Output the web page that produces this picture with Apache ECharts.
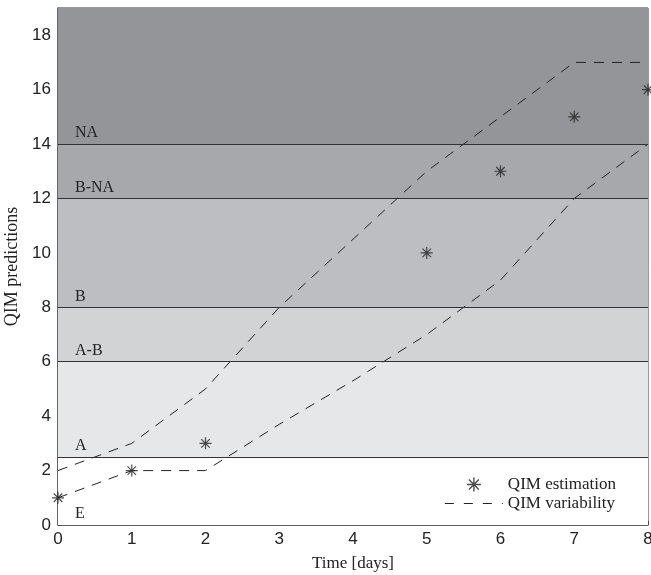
<!DOCTYPE html>
<html><head><meta charset="utf-8">
<script src="https://cdn.jsdelivr.net/npm/echarts@6/dist/echarts.min.js"></script>
<style>html,body{margin:0;padding:0;background:#fff}#c{width:651px;height:575px}</style>
</head><body><div id="c"></div>
<script>
var days = [0, 1, 2, 3, 4, 5, 6, 7, 8];
var estDays = [0, 1, 2, 5, 6, 7, 8];
var estValues = [1, 2, 3, 10, 13, 15, 16];
var upperValues = [2, 3, 5, 8, 10.5, 13, 15, 17, 17];
var lowerValues = [1, 2, 2, 3.7, 5.3, 7, 9, 12, 14];
var bandBounds = [0, 2.5, 6, 8, 12, 14, 19];
var bandLabels = ['E', 'A', 'A-B', 'B', 'B-NA', 'NA'];
var bandColors = ['#ffffff', '#e6e7e8', '#d2d3d5', '#bdbec1', '#a7a8ab', '#939598'];
var xTicks = ['0', '1', '2', '3', '4', '5', '6', '7', '8'];
var yTicks = ['0', '2', '4', '6', '8', '10', '12', '14', '16', '18'];

var serif = '"Liberation Serif", "DejaVu Serif", serif';
var sans = '"Liberation Sans", Arial, sans-serif';
var star = 'path://M-1,-10L1,-10L1,10L-1,10Z M-10,-1L10,-1L10,1L-10,1Z M-6.36,-7.78L7.78,6.36L6.36,7.78L-7.78,-6.36Z M-7.78,6.36L6.36,-7.78L7.78,-6.36L-6.36,7.78Z';

var bandData = [];
for (var i = 0; i < bandLabels.length; i++) {
  bandData.push([
    {yAxis: bandBounds[i], itemStyle: {color: bandColors[i]}, name: bandLabels[i],
     label: {show: true, position: 'insideBottomLeft', distance: 3, offset: [14, 0], formatter: bandLabels[i],
             fontFamily: serif, fontSize: 16, color: '#222'}},
    {yAxis: bandBounds[i + 1]}
  ]);
}
var lineData = [];
for (var j = 1; j < bandBounds.length - 1; j++) lineData.push({yAxis: bandBounds[j]});

function pairs(xs, ys) { return xs.map(function (x, k) { return [x, ys[k]]; }); }

var chart = echarts.init(document.getElementById('c'), null, {renderer: 'canvas'});
chart.setOption({
  animation: false,
  grid: {left: 58, right: 3, top: 8, bottom: 50, show: true, borderColor: '#333', borderWidth: 1, backgroundColor: 'transparent', containLabel: false, outerBoundsMode: 'none'},
  xAxis: {
    type: 'value', min: 0, max: 8, interval: 1,
    name: 'Time [days]', nameLocation: 'middle', nameGap: 30,
    nameTextStyle: {fontFamily: serif, fontSize: 17, color: '#222'},
    axisLine: {show: true, lineStyle: {color: '#555', width: 1.5}},
    axisTick: {show: true, inside: true, length: 4, lineStyle: {color: '#444'}},
    splitLine: {show: false},
    axisLabel: {fontFamily: sans, fontSize: 17, color: '#222', margin: 6, formatter: function (v) { return xTicks[v]; }}
  },
  yAxis: {
    type: 'value', min: 0, max: 19, interval: 2,
    name: 'QIM predictions', nameLocation: 'middle', nameGap: 32,
    nameTextStyle: {fontFamily: serif, fontSize: 18, color: '#222'},
    axisLine: {show: true, lineStyle: {color: '#555', width: 1.5}},
    axisTick: {show: true, inside: true, length: 4, lineStyle: {color: '#444'}},
    splitLine: {show: false},
    axisLabel: {fontFamily: sans, fontSize: 17, color: '#222', margin: 7, formatter: function (v) { return yTicks[v / 2]; }}
  },
  legend: {
    right: 35, bottom: 63, orient: 'vertical', itemGap: 2, itemWidth: 58, itemHeight: 14, padding: 0,
    textStyle: {fontFamily: serif, fontSize: 17, color: '#222', lineHeight: 14, padding: [0, 0, 0, 0]},
    data: [
      {name: 'QIM estimation', icon: star, itemStyle: {color: '#222'}},
      {name: 'QIM variability', itemStyle: {opacity: 0}, lineStyle: {type: [9, 10], width: 1, color: '#222'}}
    ]
  },
  series: [
    {
      type: 'line', name: 'bands', data: [], silent: true, legendHoverLink: false,
      markArea: {silent: true, data: bandData},
      markLine: {silent: true, symbol: 'none', data: lineData, label: {show: false},
        lineStyle: {color: '#333', width: 1, type: 'solid'}}
    },
    {
      type: 'line', name: 'QIM variability', data: pairs(days, upperValues), showSymbol: false, symbol: 'none',
      lineStyle: {color: '#222', width: 1, type: [10, 8]}, itemStyle: {color: '#222'}, z: 3
    },
    {
      type: 'line', name: 'QIM variability', data: pairs(days, lowerValues), showSymbol: false, symbol: 'none',
      lineStyle: {color: '#222', width: 1, type: [10, 8]}, itemStyle: {color: '#222'}, z: 3
    },
    {
      type: 'scatter', name: 'QIM estimation', data: pairs(estDays, estValues), symbol: star, symbolSize: 12,
      itemStyle: {color: '#222'}, z: 4, clip: false
    }
  ]
});
</script></body></html>
